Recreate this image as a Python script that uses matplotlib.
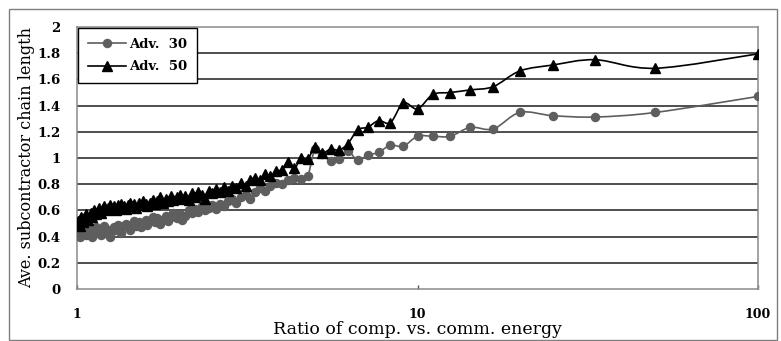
import numpy as np
import matplotlib
matplotlib.use("Agg")
import matplotlib.pyplot as plt
from matplotlib.path import Path
from matplotlib.patches import PathPatch, Rectangle
from matplotlib.lines import Line2D
from matplotlib.ticker import FixedLocator, NullLocator

# Ratio of computation vs. communication energy
ratio = [
    1.00, 1.01, 1.02, 1.03, 1.04, 1.05, 1.06, 1.08, 1.09, 1.10,
    1.11, 1.12, 1.14, 1.15, 1.16, 1.18, 1.19, 1.20, 1.22, 1.23,
    1.25, 1.27, 1.28, 1.30, 1.32, 1.33, 1.35, 1.37, 1.39, 1.41,
    1.43, 1.45, 1.47, 1.49, 1.52, 1.54, 1.56, 1.59, 1.61, 1.64,
    1.67, 1.69, 1.72, 1.75, 1.79, 1.82, 1.85, 1.89, 1.92, 1.96,
    2.00, 2.04, 2.08, 2.13, 2.17, 2.22, 2.27, 2.33, 2.38, 2.44,
    2.50, 2.56, 2.63, 2.70, 2.78, 2.86, 2.94, 3.03, 3.13, 3.23,
    3.33, 3.45, 3.57, 3.70, 3.85, 4.00, 4.17, 4.35, 4.55, 4.76,
    5.00, 5.26, 5.56, 5.88, 6.25, 6.67, 7.14, 7.69, 8.33, 9.09,
    10.0, 11.1, 12.5, 14.3, 16.7, 20.0, 25.0, 33.3, 50.0, 100.0,
]

adv30 = [
    0.46, 0.43, 0.40, 0.44, 0.42, 0.45, 0.41, 0.43, 0.46, 0.42,
    0.40, 0.44, 0.47, 0.43, 0.45, 0.41, 0.44, 0.48, 0.46, 0.43,
    0.40, 0.44, 0.47, 0.45, 0.49, 0.46, 0.43, 0.48, 0.50, 0.47,
    0.45, 0.49, 0.52, 0.48, 0.51, 0.47, 0.50, 0.53, 0.49, 0.52,
    0.55, 0.51, 0.54, 0.50, 0.53, 0.56, 0.52, 0.55, 0.58, 0.54,
    0.57, 0.53, 0.56, 0.60, 0.58, 0.61, 0.59, 0.63, 0.60, 0.62,
    0.64, 0.61, 0.65, 0.63, 0.67, 0.69, 0.66, 0.70, 0.72, 0.69,
    0.74, 0.77, 0.75, 0.79, 0.81, 0.80, 0.83, 0.85, 0.84, 0.86,
    1.07, 1.03, 0.976, 0.994, 1.052, 0.983, 1.02, 1.044, 1.097, 1.09,
    1.166, 1.166, 1.166, 1.234, 1.222, 1.348, 1.323, 1.313, 1.348, 1.47,
]

adv50 = [
    0.50, 0.52, 0.48, 0.55, 0.51, 0.54, 0.57, 0.53, 0.56, 0.58,
    0.55, 0.60, 0.57, 0.59, 0.62, 0.58, 0.61, 0.63, 0.60, 0.62,
    0.64, 0.61, 0.63, 0.60, 0.64, 0.62, 0.65, 0.63, 0.61, 0.64,
    0.66, 0.63, 0.65, 0.62, 0.66, 0.64, 0.67, 0.65, 0.63, 0.66,
    0.68, 0.65, 0.67, 0.70, 0.66, 0.69, 0.67, 0.71, 0.68, 0.70,
    0.72, 0.69, 0.71, 0.68, 0.73, 0.70, 0.74, 0.72, 0.69, 0.75,
    0.73, 0.76, 0.74, 0.78, 0.75, 0.79, 0.77, 0.81, 0.79, 0.83,
    0.85, 0.83, 0.88, 0.86, 0.90, 0.91, 0.97, 0.92, 1.00, 0.99,
    1.085, 1.035, 1.07, 1.06, 1.11, 1.215, 1.235, 1.285, 1.27, 1.42,
    1.375, 1.485, 1.50, 1.52, 1.545, 1.665, 1.71, 1.75, 1.685, 1.795,
]

series_labels = ["Adv.  30", "Adv.  50"]
y_ticks = [0, 0.2, 0.4, 0.6, 0.8, 1.0, 1.2, 1.4, 1.6, 1.8, 2.0]
y_tick_labels = ["0", "0.2", "0.4", "0.6", "0.8", "1", "1.2", "1.4", "1.6", "1.8", "2"]
x_ticks = [1, 10, 100]
x_tick_labels = ["1", "10", "100"]


def smoothed_path(xs, ys):
    """Catmull-Rom style smoothed curve, built in log-x space."""
    pts = np.column_stack([np.log10(xs), np.asarray(ys, dtype=float)])
    verts = [pts[0]]
    codes = [Path.MOVETO]
    n = len(pts)
    for i in range(n - 1):
        p0 = pts[i - 1] if i > 0 else pts[i]
        p1 = pts[i]
        p2 = pts[i + 1]
        p3 = pts[i + 2] if i + 2 < n else pts[i + 1]
        c1 = p1 + (p2 - p0) / 6.0
        c2 = p2 - (p3 - p1) / 6.0
        verts += [c1, c2, p2]
        codes += [Path.CURVE4] * 3
    verts = np.array(verts)
    verts[:, 0] = 10 ** verts[:, 0]
    return Path(verts, codes)


GRAY = "#5e5e5e"
BLACK = "#000000"
SERIF = ["DejaVu Serif"]

fig = plt.figure(figsize=(7.81, 3.41), dpi=100)
fig.patch.set_facecolor("white")

# chart-area frame
fig.add_artist(Rectangle((9 / 781, 1 / 341), 768 / 781, 331 / 341,
                         transform=fig.transFigure, fill=False,
                         edgecolor="#7f7f7f", linewidth=1.0))

ax = fig.add_axes([77 / 781, 1 - 289 / 341, 681 / 781, 262 / 341])
ax.set_xscale("log")
ax.set_xlim(1, 100)
ax.set_ylim(0, 2)

for yv in y_ticks[1:-1]:
    ax.axhline(yv, color="#1e1e1e", linewidth=1.1, zorder=1)

for sp in ax.spines.values():
    sp.set_color("#8a8a8a")
    sp.set_linewidth(1.1)

# series lines (smoothed) and markers
ax.add_patch(PathPatch(smoothed_path(ratio, adv30), fill=False,
                       edgecolor=GRAY, linewidth=1.2, zorder=2))
ax.plot(ratio, adv30, linestyle="none", marker="o", markersize=5.8,
        color=GRAY, markeredgecolor=GRAY, zorder=3)
ax.add_patch(PathPatch(smoothed_path(ratio, adv50), fill=False,
                       edgecolor=BLACK, linewidth=1.2, zorder=4))
ax.plot(ratio, adv50, linestyle="none", marker="^", markersize=7.2,
        color=BLACK, zorder=5)

ax.xaxis.set_major_locator(FixedLocator(x_ticks))
ax.xaxis.set_minor_locator(NullLocator())
ax.set_xticklabels(x_tick_labels)
ax.set_yticks(y_ticks)
ax.set_yticklabels(y_tick_labels)
ax.tick_params(axis="x", direction="in", length=3, width=1, color="#555555",
               pad=14, labelsize=9)
ax.tick_params(axis="y", length=0, pad=12, labelsize=9.5)
for lab in ax.get_xticklabels() + ax.get_yticklabels():
    lab.set_fontfamily(SERIF)
    lab.set_fontweight("bold")

ax.set_xlabel("Ratio of comp. vs. comm. energy", fontfamily=SERIF,
              fontsize=12.5, labelpad=0)
ax.set_ylabel("Ave. subcontractor chain length", fontfamily=SERIF,
              fontsize=11.5, labelpad=4)
ax.xaxis.set_label_coords(0.5, -0.122)
ax.yaxis.set_label_coords(-0.062, 0.5)

handles = [
    Line2D([], [], color=GRAY, marker="o", markersize=5.8, linewidth=1.2),
    Line2D([], [], color=BLACK, marker="^", markersize=7.2, linewidth=1.2),
]
leg = ax.legend(handles, series_labels, loc="upper left",
                bbox_to_anchor=(0.0, 1.0), borderaxespad=0.05,
                fancybox=False, framealpha=1, edgecolor="black",
                prop={"family": SERIF, "weight": "bold", "size": 9.5},
                handlelength=2.9, handletextpad=0.25, labelspacing=0.75,
                borderpad=0.75)
leg.get_frame().set_linewidth(1.0)
leg.set_zorder(10)

fig.savefig("out.png", dpi=100, facecolor="white")
